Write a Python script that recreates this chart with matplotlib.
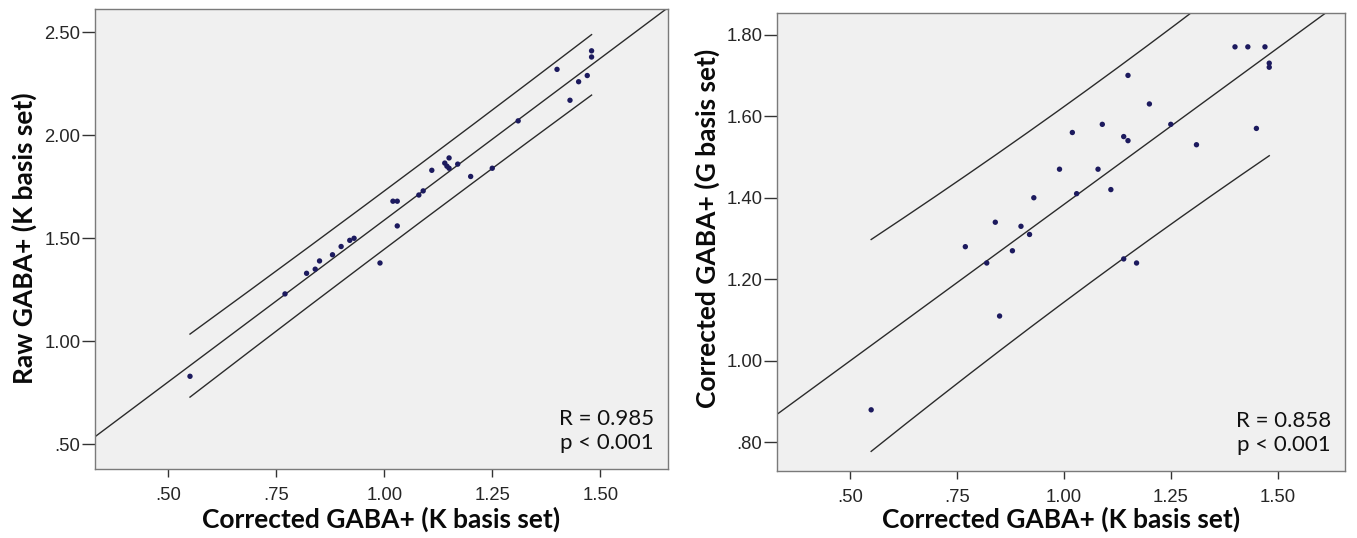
import numpy as np
import matplotlib
matplotlib.use("Agg")
import matplotlib.pyplot as plt

# ---- data ----
x_left = [0.55, 0.77, 0.82, 0.84, 0.85, 0.88, 0.90, 0.92, 0.93, 0.99, 1.02, 1.03, 1.03,
          1.08, 1.09, 1.11, 1.14, 1.145, 1.15, 1.15, 1.17, 1.20, 1.25, 1.31, 1.40, 1.43,
          1.45, 1.47, 1.48, 1.48]
y_left = [0.83, 1.23, 1.33, 1.35, 1.39, 1.42, 1.46, 1.49, 1.50, 1.38, 1.68, 1.68, 1.56,
          1.71, 1.73, 1.83, 1.865, 1.85, 1.89, 1.84, 1.86, 1.80, 1.84, 2.07, 2.32, 2.17,
          2.26, 2.29, 2.41, 2.38]

x_right = [0.55, 0.77, 0.82, 0.84, 0.85, 0.88, 0.90, 0.92, 0.93, 0.99, 1.02, 1.03, 1.08,
           1.09, 1.11, 1.14, 1.14, 1.15, 1.15, 1.17, 1.20, 1.25, 1.31, 1.40, 1.43, 1.45,
           1.47, 1.48, 1.48]
y_right = [0.88, 1.28, 1.24, 1.34, 1.11, 1.27, 1.33, 1.31, 1.40, 1.47, 1.56, 1.41, 1.47,
           1.58, 1.42, 1.55, 1.25, 1.54, 1.70, 1.24, 1.63, 1.58, 1.53, 1.77, 1.77, 1.57,
           1.77, 1.73, 1.72]

x_ticks = [0.50, 0.75, 1.00, 1.25, 1.50]
x_ticklabels = [".50", ".75", "1.00", "1.25", "1.50"]
yl_ticks = [0.50, 1.00, 1.50, 2.00, 2.50]
yl_ticklabels = [".50", "1.00", "1.50", "2.00", "2.50"]
yr_ticks = [0.80, 1.00, 1.20, 1.40, 1.60, 1.80]
yr_ticklabels = [".80", "1.00", "1.20", "1.40", "1.60", "1.80"]

x_label = "Corrected GABA+ (K basis set)"
yl_label = "Raw GABA+ (K basis set)"
yr_label = "Corrected GABA+ (G basis set)"
stats_left = "R = 0.985\np < 0.001"
stats_right = "R = 0.858\np < 0.001"

t_crit = 2.05  # two-sided 95% t value, ~27 df

W, H = 1357, 538
fig = plt.figure(figsize=(W / 100, H / 100), dpi=100)
fig.patch.set_facecolor("white")

def px_axes(l, t, r, b):
    return fig.add_axes([l / W, 1 - b / H, (r - l) / W, (b - t) / H])

axL = px_axes(95, 9, 668, 469)
axR = px_axes(777, 13, 1345, 471)

tick_font = dict(family=["Liberation Sans", "DejaVu Sans"], size=13.3)
lab_font = dict(family=["Lato", "DejaVu Sans"], weight="bold", size=19)
stat_font = dict(family=["Lato", "DejaVu Sans"], size=16)


def draw(ax, xs, ys, ylim, yticks, yticklabels, stats):
    xs = np.asarray(xs)
    ys = np.asarray(ys)
    ax.set_facecolor("#f0f0f0")
    ax.set_xlim(0.33, 1.657)
    ax.set_ylim(*ylim)
    # regression + 95% individual prediction interval
    b1, b0 = np.polyfit(xs, ys, 1)
    n = len(xs)
    resid = ys - (b0 + b1 * xs)
    s = np.sqrt(np.sum(resid ** 2) / (n - 2))
    sxx = np.sum((xs - xs.mean()) ** 2)
    xf = np.linspace(0.30, 1.70, 200)
    ax.plot(xf, b0 + b1 * xf, color="#2b2b2b", lw=1.0, zorder=2)
    xb = np.linspace(xs.min(), xs.max(), 200)
    half = t_crit * s * np.sqrt(1 + 1 / n + (xb - xs.mean()) ** 2 / sxx)
    ax.plot(xb, b0 + b1 * xb + half, color="#2b2b2b", lw=1.0, zorder=2)
    ax.plot(xb, b0 + b1 * xb - half, color="#2b2b2b", lw=1.0, zorder=2)
    ax.scatter(xs, ys, s=15, color="#1c1a5e", edgecolors="none", zorder=3)

    ax.set_xticks(x_ticks)
    ax.set_xticklabels(x_ticklabels, **tick_font)
    ax.set_yticks(yticks)
    ax.set_yticklabels(yticklabels, **tick_font)
    ax.tick_params(axis="x", direction="out", length=6, width=1, color="#333333",
                   pad=7, labelcolor="#262626")
    ax.tick_params(axis="y", direction="out", length=9.5, width=1, color="#333333",
                   pad=1, labelcolor="#262626")
    for sp in ax.spines.values():
        sp.set_color("#7a7a7a")
        sp.set_linewidth(1.0)
    ax.text(0.975, 0.035, stats, transform=ax.transAxes, ha="right", va="bottom",
            color="#111111", linespacing=1.22, **stat_font)


draw(axL, x_left, y_left, (0.38, 2.613), yl_ticks, yl_ticklabels, stats_left)
draw(axR, x_right, y_right, (0.73, 1.853), yr_ticks, yr_ticklabels, stats_right)

fig.text(381 / W, 1 - 519 / H, x_label, ha="center", va="center", color="#0a0a0a", **lab_font)
fig.text(1061 / W, 1 - 519 / H, x_label, ha="center", va="center", color="#0a0a0a", **lab_font)
fig.text(24 / W, 1 - 238 / H, yl_label, ha="center", va="center", rotation=90,
         color="#0a0a0a", **lab_font)
fig.text(707 / W, 1 - 228 / H, yr_label, ha="center", va="center", rotation=90,
         color="#0a0a0a", **lab_font)

fig.savefig("out.png", dpi=100, facecolor="white")
